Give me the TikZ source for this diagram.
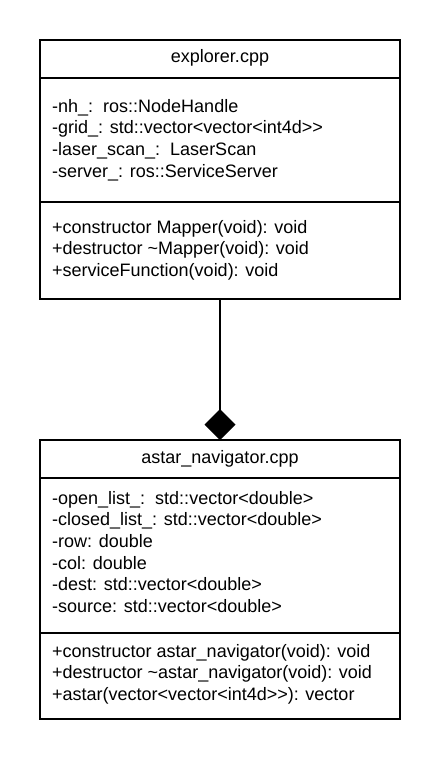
\documentclass[tikz,border=0pt]{standalone}
\usepackage{fontspec}
\setmainfont{Liberation Sans}
\usetikzlibrary{arrows.meta}
\begin{document}
\begin{tikzpicture}[x=1pt, y=-1pt,
    part/.style={draw=black, line width=2pt, minimum width=360pt, outer sep=0pt, inner sep=0pt, anchor=north},
    member/.style={anchor=base west, inner sep=0pt, font=\fontsize{18}{21.7}\selectfont},
    classname/.style={anchor=base, inner sep=0pt, font=\fontsize{18}{21.7}\selectfont}]
    \useasboundingbox[fill=white] (0,0) rectangle (440,760);

    % explorer class
    \node[part, minimum height=37.5pt] (explorer) at (220,40) {};
    \node[part, minimum height=124.5pt] (explorer attrs) at (explorer.south) {};
    \node[part, minimum height=97pt] (explorer ops) at (explorer attrs.south) {};
    \node[classname] (explorer name) at (220,63) {explorer.cpp};
    \foreach \txt [count=\i] in {-nh\_:\ \ ros::NodeHandle, -grid\_: std::vector<vector<int4d>{}>,
        -laser\_scan\_:\ \ LaserScan, -server\_: ros::ServiceServer}
      {
        \node[member] (explorer attr \i) at (52,{112+21.7*(\i-1)}) {\txt};
      }
    \foreach \txt [count=\i] in {+constructor Mapper(void): void, +destructor \textasciitilde Mapper(void): void,
        +serviceFunction(void): void}
      {
        \node[member] (explorer op \i) at (52,{233+21.7*(\i-1)}) {\txt};
      }

    % astar_navigator class
    \node[part, minimum height=37.5pt] (astar) at (220,440) {};
    \node[part, minimum height=155pt] (astar attrs) at (astar.south) {};
    \node[part, minimum height=86.5pt] (astar ops) at (astar attrs.south) {};
    \node[classname] (astar name) at (220,463) {astar\_navigator.cpp};
    \foreach \txt [count=\i] in {-open\_list\_:\ \ std::vector<double>, -closed\_list\_: std::vector<double>,
        -row: double, -col: double, -dest: std::vector<double>, -source: std::vector<double>}
      {
        \node[member] (astar attr \i) at (52,{504+21.7*(\i-1)}) {\txt};
      }
    \foreach \txt [count=\i] in {+constructor astar\_navigator(void): void,
        +destructor \textasciitilde astar\_navigator(void): void, +astar(vector<vector<int4d>{}>): vector}
      {
        \node[member] (astar op \i) at (52,{657+21.7*(\i-1)}) {\txt};
      }

    % composition
    \draw[line width=2pt, -{Diamond[length=31pt, width=31pt]}] (explorer ops.south) -- (astar.north);
  \end{tikzpicture}
\end{document}
